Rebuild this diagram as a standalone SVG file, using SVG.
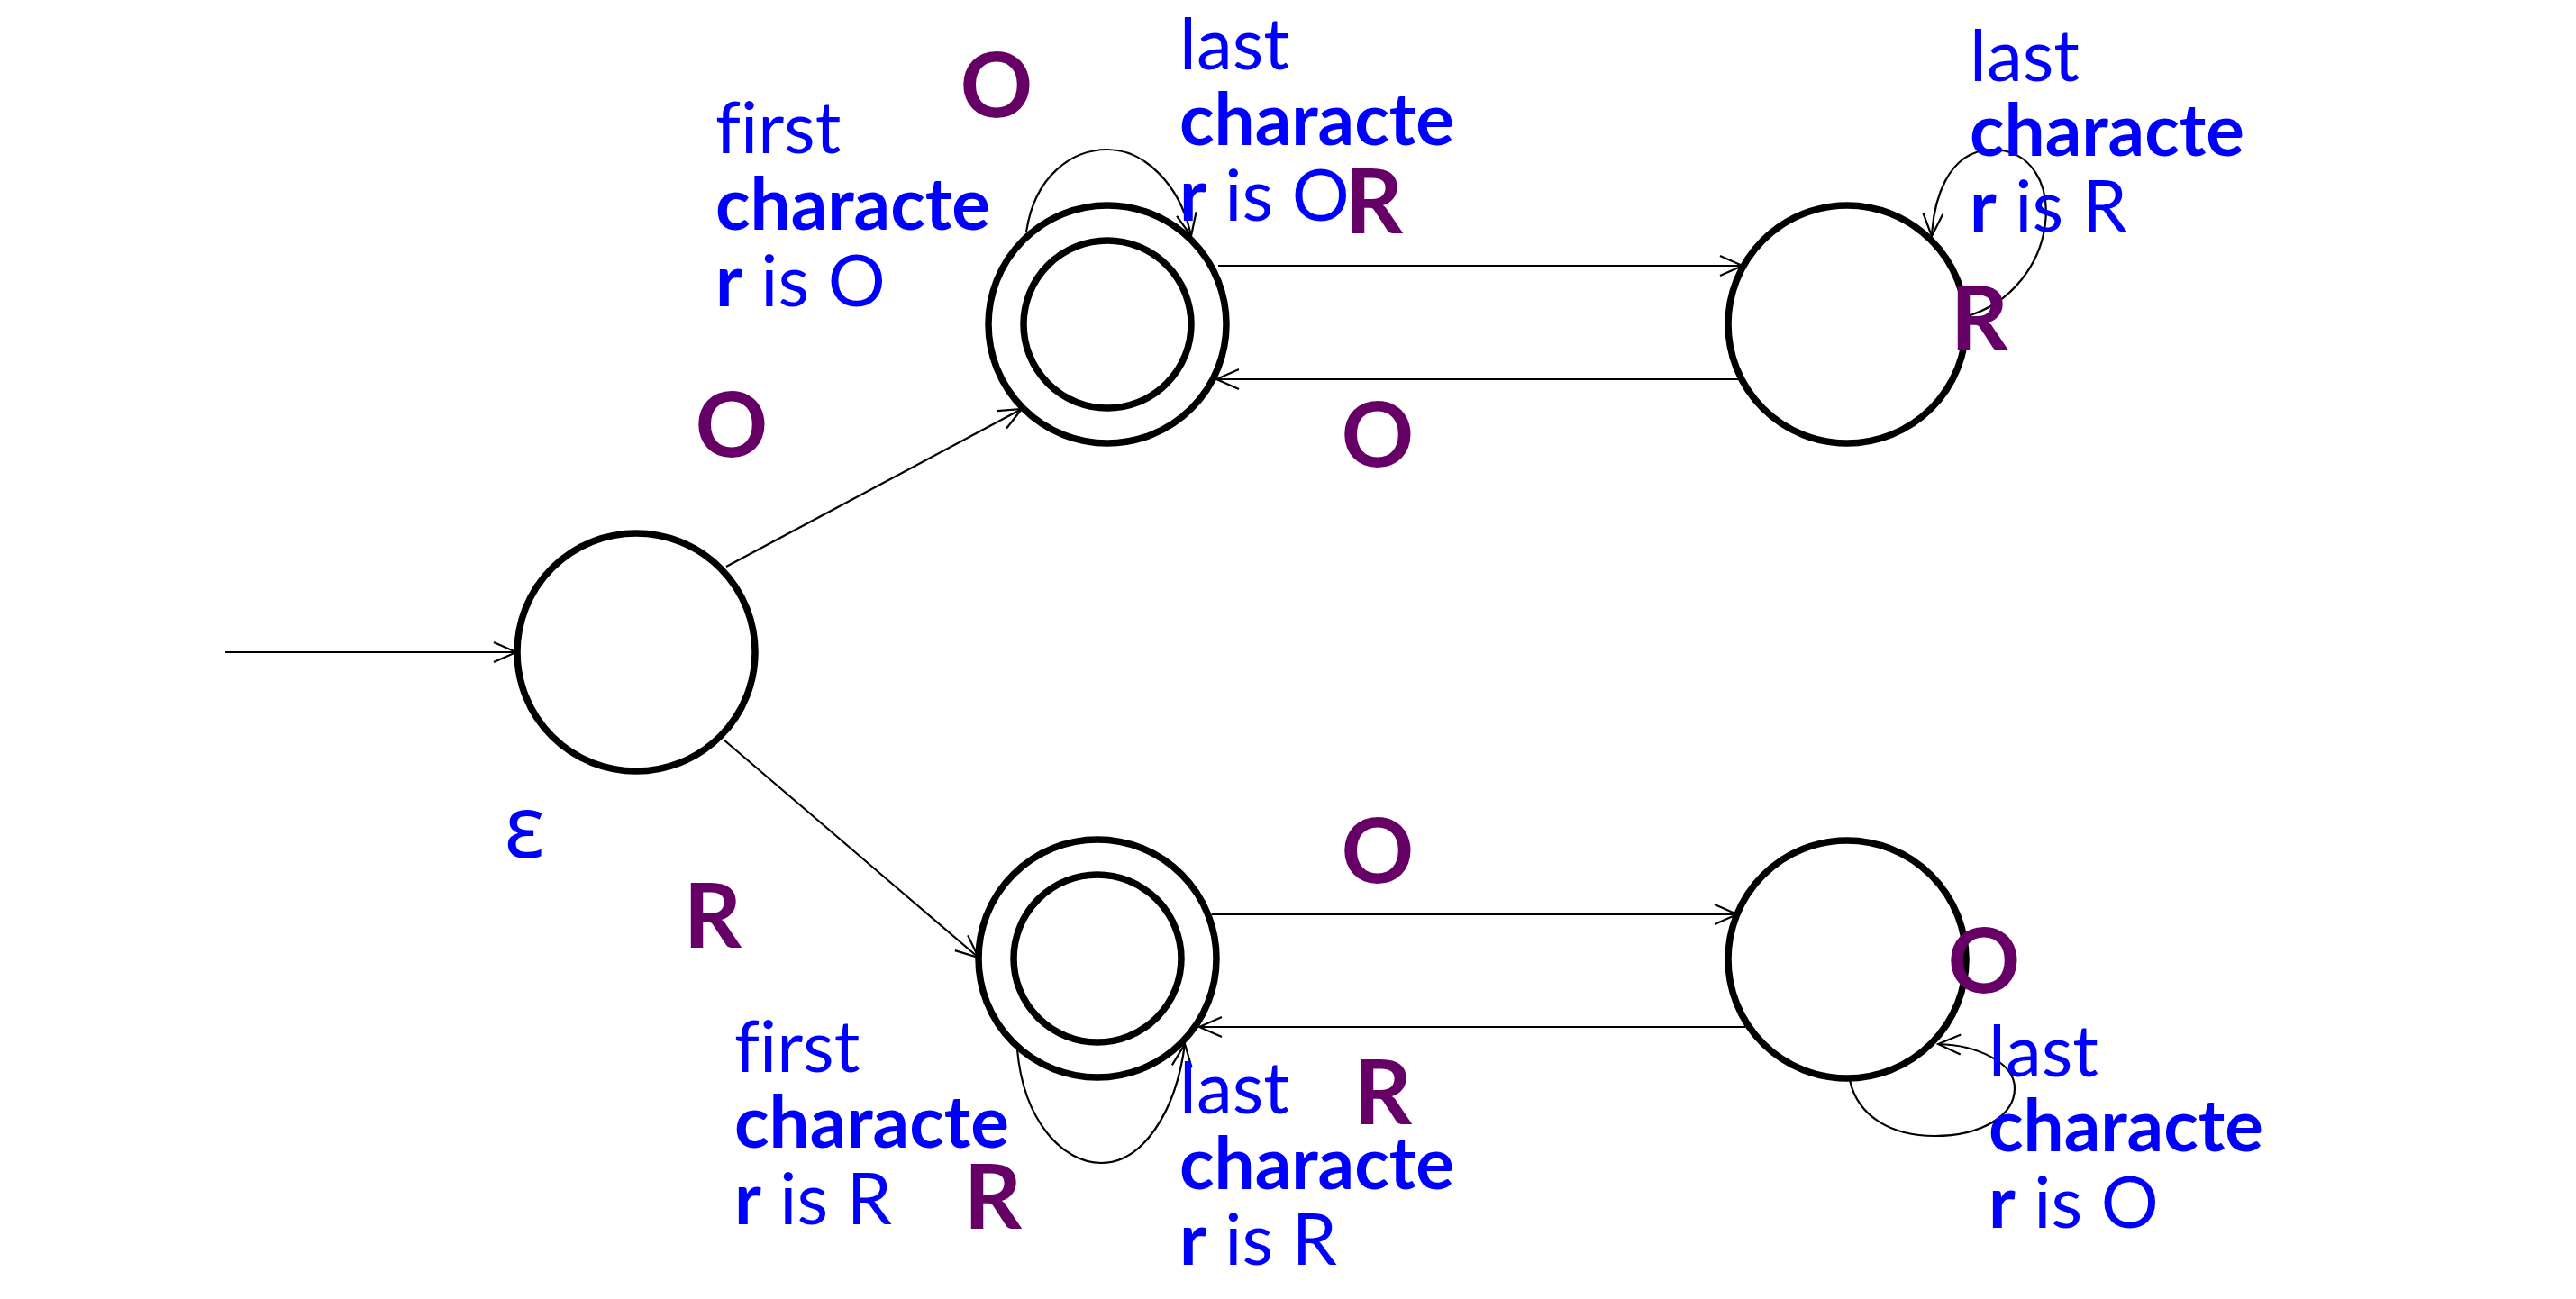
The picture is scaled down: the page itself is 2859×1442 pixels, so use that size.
<svg xmlns="http://www.w3.org/2000/svg" width="2859" height="1442" viewBox="0 0 2859 1442">
<style>
.st{fill:none;stroke:#000;stroke-width:7.5}
.ed{fill:none;stroke:#000;stroke-width:2.2;marker-end:url(#arr)}
.lb{font-family:Lato,"Open Sans","Liberation Sans",sans-serif;font-size:80px;fill:#0000FF;font-variant-ligatures:none}
.b{font-weight:bold}
.sym{font-family:Lato,"Open Sans","Liberation Sans",sans-serif;font-weight:bold;font-size:100px;fill:#660066;text-anchor:middle}
.eps{font-family:"Noto Sans","DejaVu Sans",sans-serif;font-size:96px;fill:#0000FF;text-anchor:middle}
</style>
<defs>
<marker id="arr" markerUnits="userSpaceOnUse" markerWidth="30" markerHeight="26" viewBox="0 0 30 26" refX="28" refY="13" orient="auto">
<path d="M3,2 L28,13 L3,24" fill="none" stroke="#000" stroke-width="2.2"/>
</marker>
</defs>
<rect width="2859" height="1442" fill="#fff"/>
<g id="connectors">
<line class="ed" x1="250" y1="724" x2="573" y2="724"/>
<line class="ed" x1="806" y1="629" x2="1134" y2="454"/>
<line class="ed" x1="803" y1="821" x2="1086" y2="1063"/>
<line class="ed" x1="1352" y1="295" x2="1934" y2="295"/>
<line class="ed" x1="1930" y1="421" x2="1350" y2="421"/>
<line class="ed" x1="1345" y1="1015" x2="1928" y2="1015"/>
<line class="ed" x1="1937" y1="1140" x2="1331" y2="1140"/>
<path class="ed" d="M1139 258 C1148 195,1190 166,1229 166 C1270 166,1310 205,1322 262"/>
<path class="ed" d="M2180 352 C2290 322,2300 166,2210 166 C2160 168,2146 225,2144 262"/>
<path class="ed" d="M1129 1165 C1136 1245,1180 1291,1222 1291 C1268 1291,1305 1235,1315 1159"/>
<path class="ed" d="M2053 1199 C2062 1240,2100 1261,2147 1261 C2200 1261,2236 1238,2236 1208 C2236 1180,2195 1160,2151 1159"/>
</g>
<g id="start">
<circle class="st" cx="706" cy="724" r="132"/>
</g>
<g id="top-accept">
<circle class="st" cx="1229" cy="360" r="132"/>
<circle class="st" cx="1229" cy="360" r="93"/>
</g>
<g id="top-right">
<circle class="st" cx="2050" cy="360" r="132"/>
</g>
<g id="bottom-accept">
<circle class="st" cx="1218" cy="1064" r="132"/>
<circle class="st" cx="1218" cy="1064" r="93"/>
</g>
<g id="bottom-right">
<circle class="st" cx="2050" cy="1065" r="132"/>
</g>
<g id="labels">
<text class="sym" x="1106" y="130">O</text>
<text class="sym" x="1525" y="259">R</text>
<text class="sym" x="812" y="507">O</text>
<text class="sym" x="1529" y="518">O</text>
<text class="sym" x="2197" y="389">R</text>
<text class="sym" x="791" y="1052">R</text>
<text class="sym" x="1529" y="980">O</text>
<text class="sym" x="1535" y="1248">R</text>
<text class="sym" x="1102" y="1364">R</text>
<text class="sym" x="2202" y="1102">O</text>
<text class="eps" x="582" y="952">ε</text>
<text class="lb" x="794" y="170">first<tspan class="b" x="794" y="255">characte</tspan><tspan x="794" y="340"><tspan class="b">r</tspan> is O</tspan></text>
<text class="lb" x="1309" y="77">last<tspan class="b" x="1309" y="161">characte</tspan><tspan x="1309" y="245"><tspan class="b">r</tspan> is O</tspan></text>
<text class="lb" x="2186" y="90">last<tspan class="b" x="2186" y="173">characte</tspan><tspan x="2186" y="257"><tspan class="b">r</tspan> is R</tspan></text>
<text class="lb" x="815" y="1190">first<tspan class="b" x="815" y="1274">characte</tspan><tspan x="815" y="1359"><tspan class="b">r</tspan> is R</tspan></text>
<text class="lb" x="1309" y="1236">last<tspan class="b" x="1309" y="1320">characte</tspan><tspan x="1309" y="1404"><tspan class="b">r</tspan> is R</tspan></text>
<text class="lb" x="2207" y="1195">last<tspan class="b" x="2207" y="1278">characte</tspan><tspan x="2207" y="1363"><tspan class="b">r</tspan> is O</tspan></text>
</g>
</svg>
